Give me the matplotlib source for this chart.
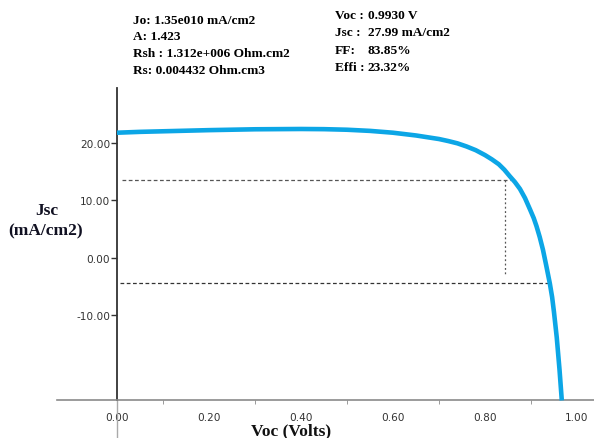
import matplotlib.pyplot as plt
from matplotlib.ticker import FixedLocator, FormatStrFormatter

# I-V curve of the cell (voltage in V, current density in mA/cm2)
voltage = [0.00, 0.05, 0.10, 0.15, 0.20, 0.30, 0.40, 0.45, 0.50, 0.55, 0.60,
           0.65, 0.70, 0.72, 0.74, 0.76, 0.78, 0.80, 0.815, 0.83, 0.842,
           0.854, 0.865, 0.876, 0.887, 0.898, 0.906, 0.912, 0.919, 0.926,
           0.933, 0.941, 0.946, 0.950, 0.956, 0.962, 0.967]
current = [21.8, 21.95, 22.05, 22.15, 22.25, 22.4, 22.45, 22.42, 22.32, 22.12,
           21.8, 21.32, 20.7, 20.35, 19.95, 19.4, 18.75, 17.9, 17.15, 16.3,
           15.35, 14.2, 13.2, 12.0, 10.4, 8.4, 6.9, 5.5, 3.6, 1.4,
           -1.3, -4.5, -6.9, -9.5, -13.9, -19.5, -24.9]

# guide lines
mpp_v = 0.843
mpp_j = 13.6
low_j = -4.47
guide_x0 = 0.01

left_params = ["Jo: 1.35e010 mA/cm2", "A: 1.423",
               "Rsh : 1.312e+006 Ohm.cm2", "Rs: 0.004432 Ohm.cm3"]
right_names = ["Voc :", "Jsc :", "FF:", "Effi :"]
right_values = ["0.9930 V", "27.99 mA/cm2", "83.85%", "23.32%"]

xlim = (-0.1304, 1.037)
ylim = (-31.45, 29.6)
xaxis_y = -24.77

fig = plt.figure(figsize=(5.94, 4.39), dpi=100)
ax = fig.add_axes([57 / 594, 0, 537 / 594, 350 / 439])
ax.set_xlim(xlim)
ax.set_ylim(ylim)

ax.spines['top'].set_visible(False)
ax.spines['right'].set_visible(False)
ax.spines['left'].set_position(('data', 0))
ax.spines['left'].set_bounds(xaxis_y, ylim[1])
ax.spines['left'].set_color('#333333')
ax.spines['left'].set_linewidth(1.3)
ax.spines['bottom'].set_position(('data', xaxis_y))
ax.spines['bottom'].set_color('#8a8a8a')
ax.spines['bottom'].set_linewidth(1.2)
# y axis continues faintly below the x axis
ax.axvline(0, ymin=0, ymax=(xaxis_y - ylim[0]) / (ylim[1] - ylim[0]),
           color='#aaaaaa', lw=1.0)

ax.set_xticks([0, 0.2, 0.4, 0.6, 0.8, 1.0])
ax.xaxis.set_minor_locator(FixedLocator([0.1, 0.3, 0.5, 0.7, 0.9]))
ax.xaxis.set_major_formatter(FormatStrFormatter('%.2f'))
ax.tick_params(axis='x', which='major', length=0, pad=9, labelsize=7.6,
               labelcolor='#333333')
ax.tick_params(axis='x', which='minor', length=3, direction='out',
               color='#8a8a8a')
ax.set_yticks([-10, 0, 10, 20])
ax.yaxis.set_major_formatter(FormatStrFormatter('%.2f'))
ax.tick_params(axis='y', length=4, width=1, pad=1, labelsize=7.6,
               labelcolor='#333333', color='#333333')

ax.plot(voltage, current, color='#0ca6e6', lw=3.3, solid_capstyle='butt',
        solid_joinstyle='round', zorder=3)

ax.plot([guide_x0, mpp_v + 0.011], [mpp_j, mpp_j], ls=(0, (3, 2)),
        color='#555555', lw=0.9)
ax.plot([mpp_v, mpp_v], [mpp_j, low_j + 1.3], ls=(0, (1.5, 2)),
        color='#555555', lw=0.9)
ax.plot([guide_x0 - 0.004, 0.941], [low_j, low_j], ls=(0, (3, 2)),
        color='#333333', lw=0.9)

serif = {'family': 'Liberation Serif', 'weight': 'bold'}
fig.text(291 / 594, 1 - 431 / 439, "Voc (Volts)", ha='center', va='center',
         fontsize=12.5, color='#111111', **serif)
fig.text(47 / 594, 1 - 211 / 439, "Jsc", ha='center', va='center',
         fontsize=12.5, color='#111122', **serif)
fig.text(46 / 594, 1 - 231 / 439, "(mA/cm2)", ha='center', va='center',
         fontsize=12.5, color='#111122', **serif)

for i, s in enumerate(left_params):
    fig.text(133 / 594, 1 - (21 + 16.5 * i) / 439, s, ha='left', va='center',
             fontsize=9.6, color='black', **serif)
for i, (n, v) in enumerate(zip(right_names, right_values)):
    y = 1 - (16 + 17.4 * i) / 439
    fig.text(335 / 594, y, n, ha='left', va='center', fontsize=9.6,
             color='black', **serif)
    fig.text(368 / 594, y, v, ha='left', va='center', fontsize=9.6,
             color='black', **serif)

fig.savefig('out.png', dpi=100)
